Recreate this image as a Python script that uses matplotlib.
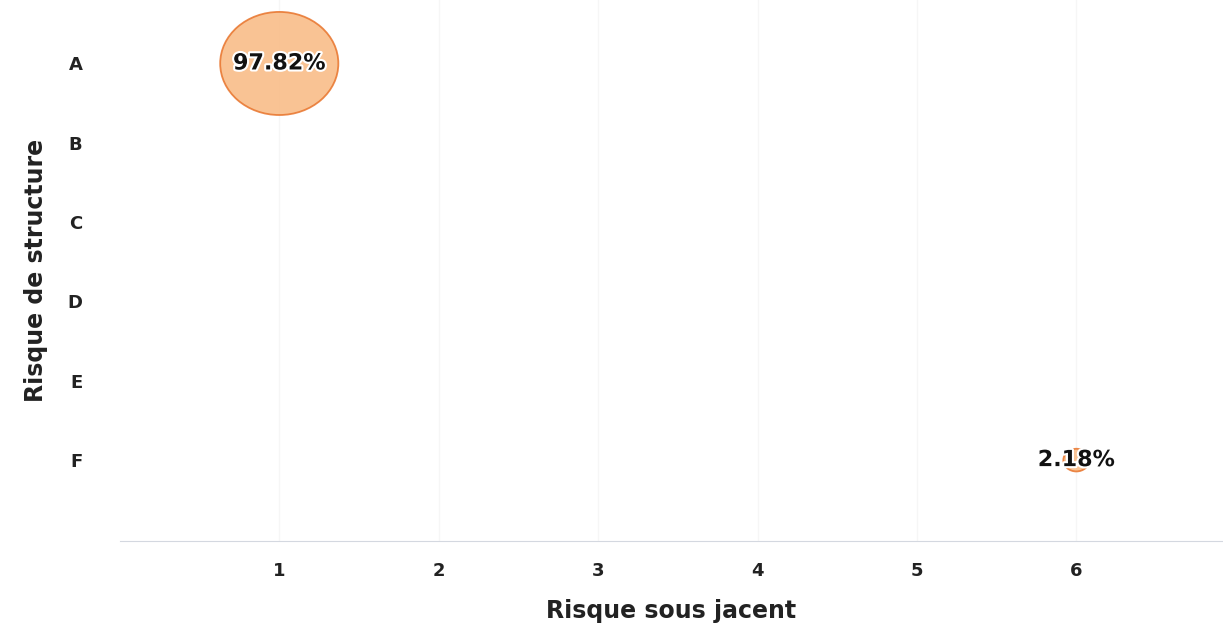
import numpy as np
import matplotlib
matplotlib.use("Agg")
import matplotlib.pyplot as plt
import matplotlib.patheffects as pe
from matplotlib.path import Path
from matplotlib.transforms import Affine2D

# categories and values
x_labels = ["1", "2", "3", "4", "5", "6"]
y_labels = ["A", "B", "C", "D", "E", "F"]
bubble_x = [1, 6]
bubble_y = ["A", "F"]
bubble_pct = [97.82, 2.18]

plt.rcParams["font.family"] = ["DejaVu Sans"]

fig = plt.figure(figsize=(12.23, 6.28), dpi=100)
ax = fig.add_axes([0.098, 0.1385, 0.902, 0.8615])

# the source image is slightly stretched sideways, so bubbles are ellipses
oval = Affine2D().scale(1.146, 1.0).transform_path(Path.unit_circle())

yi = [y_labels.index(c) for c in bubble_y]
sizes = [max(p * 74.0, 350) for p in bubble_pct]
ax.scatter(bubble_x, yi, s=sizes, marker=oval, facecolor="#f9b982",
           edgecolor="#e8742c", linewidth=1.3, alpha=0.85, zorder=3)

for x, y, p in zip(bubble_x, yi, bubble_pct):
    ax.text(x, y, f"{p:.2f}%", ha="center", va="center", fontsize=16,
            fontweight="bold", color="#111111", zorder=4,
            path_effects=[pe.withStroke(linewidth=3, foreground="white")])

ax.set_xlim(0, 6.92)
ax.set_ylim(6.02, -0.8)
ax.set_xticks(range(1, 7))
ax.set_xticklabels(x_labels, fontweight="bold")
ax.set_yticks(range(len(y_labels)))
ax.set_yticklabels(y_labels, fontweight="bold")

ax.grid(axis="x", color="#f6f6f6", linewidth=1)
ax.set_axisbelow(True)
for s in ["top", "right", "left"]:
    ax.spines[s].set_visible(False)
ax.spines["bottom"].set_color("#d4d8e0")
ax.tick_params(axis="both", length=0, labelsize=13, colors="#222222")
ax.tick_params(axis="x", pad=15)
ax.tick_params(axis="y", pad=27)

ax.set_xlabel("Risque sous jacent", fontsize=17, fontweight="bold",
              color="#222222", labelpad=14)
ax.set_ylabel("Risque de structure", fontsize=17, fontweight="bold",
              color="#222222", labelpad=14)

fig.savefig("out.png", dpi=100)
